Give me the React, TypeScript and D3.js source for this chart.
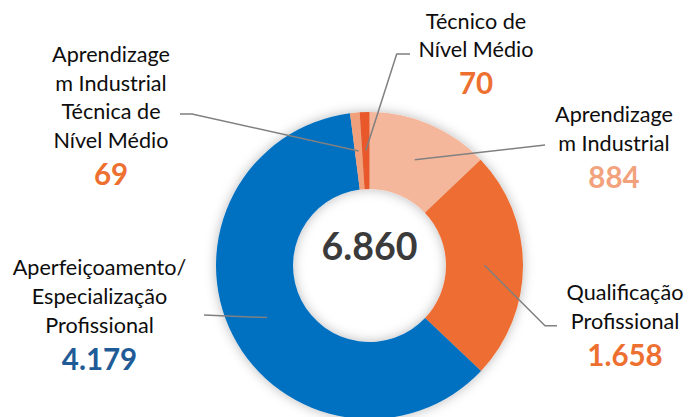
import React from "react";
import * as d3 from "d3";

// Data (clockwise from 12 o'clock)
const categories = [
  "Aprendizagem Industrial",
  "Qualificação Profissional",
  "Aperfeiçoamento/Especialização Profissional",
  "Aprendizagem Industrial Técnica de Nível Médio",
  "Técnico de Nível Médio",
];
const values = [884, 1658, 4179, 69, 70];
const labelLines = [
  ["Aprendizage", "m Industrial"],
  ["Qualificação", "Profissional"],
  ["Aperfeiçoamento/", "Especialização", "Profissional"],
  ["Aprendizage", "m Industrial", "Técnica de", "Nível Médio"],
  ["Técnico de", "Nível Médio"],
];
const sliceColors = ["#F4B79C", "#ED6D31", "#0070C0", "#F0A07A", "#E8582A"];
const numberColors = ["#F2A27C", "#ED7031", "#1F5B97", "#ED7031", "#ED7031"];

const W = 688, H = 417;
const cx = 369.5, cy = 265.5;
const R = 153.5, r = 76.5;

// label layout: text center x, first baseline, leader-line end points
const layout = [
  { x: 614, y: 121.7, line: [[545, 145]] },
  { x: 625, y: 300, line: [[545, 325.7], [557, 325.7]] },
  { x: 99.5, y: 275, line: [[204, 315]] },
  { x: 111, y: 61.7, line: [[192, 114], [180, 114]] },
  { x: 476, y: 28.5, line: [[396.7, 54], [410, 54]] },
];

const ptBR = d3.formatLocale({ decimal: ",", thousands: ".", grouping: [3], currency: ["R$", ""] });
const fmt = ptBR.format(",d");

export default function App() {
  const pie = d3.pie<number>().sort(null).value((d) => d).startAngle(0).endAngle(2 * Math.PI);
  const arcs = pie(values);
  const arc = d3.arc<d3.PieArcDatum<number>>().innerRadius(r).outerRadius(R);
  const total = d3.sum(values);
  const lineGen = d3.line();
  const pitch = 28.8;

  return (
    <svg width={W} height={H} style={{ position: "absolute", left: 0, top: 0, background: "#fff" }}
      fontFamily="Lato, 'Open Sans', sans-serif">
      <defs>
        <filter id="shadow" x="-20%" y="-20%" width="140%" height="140%">
          <feDropShadow dx="0" dy="0" stdDeviation="6" floodColor="#000" floodOpacity="0.28" />
        </filter>
      </defs>
      <g transform={`translate(${cx},${cy})`}>
        <g filter="url(#shadow)">
          {arcs.map((a, i) => (
            <path key={categories[i]} d={arc(a) || ""} fill={sliceColors[i]} />
          ))}
        </g>
        <text x={0} y={-5.5} textAnchor="middle" fontSize={37.5} fontWeight="bold" fill="#3B3B3B">
          {fmt(total)}
        </text>
      </g>
      {arcs.map((a, i) => {
        const [mx, my] = arc.centroid(a);
        const pts: [number, number][] = [[mx + cx, my + cy], ...(layout[i].line as [number, number][])];
        return <path key={"l" + i} d={lineGen(pts) || ""} fill="none" stroke="#808080" strokeWidth={1.5} />;
      })}
      {labelLines.map((lines, i) => {
        const L = layout[i];
        return (
          <g key={"t" + i}>
            {lines.map((s, j) => (
              <text key={j} x={L.x} y={L.y + j * pitch} textAnchor="middle" fontSize={21.6} fill="#0d0d0d">
                {s}
              </text>
            ))}
            <text x={L.x} y={L.y + (lines.length - 1) * pitch + 37} textAnchor="middle"
              fontSize={29.5} fontWeight="bold" fill={numberColors[i]}>
              {fmt(values[i])}
            </text>
          </g>
        );
      })}
    </svg>
  );
}
